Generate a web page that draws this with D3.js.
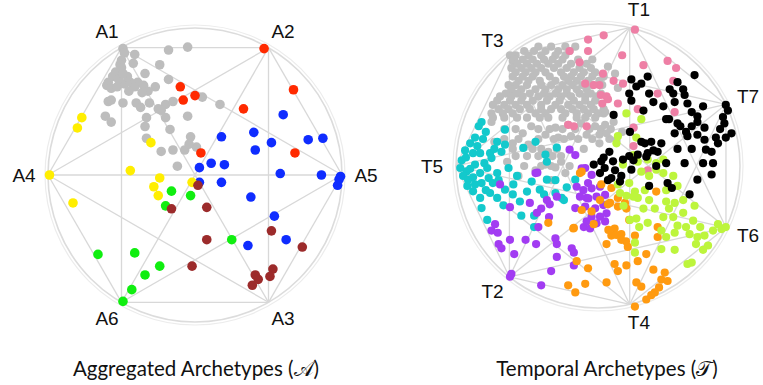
<!DOCTYPE html>
<html>
<head>
<meta charset="utf-8">
<script src="https://cdn.jsdelivr.net/npm/d3@7"></script>
<style>
  body { margin: 0; background: #fff; }
  svg { display: block; }
</style>
</head>
<body>
<svg id="chart" width="763" height="385"></svg>
<script>
// Archetype projections: points in a unit disc (radius = 100), y up

// --- Aggregated archetypes (left disc) ---
const aggLabels = ["A1", "A2", "A5", "A3", "A6", "A4"];
const aggAngles = [120, 60, 0, -60, -120, 180];

const aggGray = [
  [-49,86],[-48,83],[-41,82],[-18,85],[-5,87],[-50,78],[-51,75],[-54,70],[-56,67],[-59,63],
  [-60,61],[-57,59],[-53,60],[-48,62],[-44,63],[-46,67],[-39,63],[-41,60],[-35,61],[-34,69],
  [-24,75],[-18,65],[-27,60],[-32,57],[-36,56],[-45,57],[-59,50],[-57,51],[-49,49],[-40,49],
  [-37,46],[-31,49],[-25,45],[-20,48],[-15,50],[-23,44],[-33,39],[-34,33],[-33,25],[-20,39],
  [-17,31],[-5,40],[-3,26],[1,19],[-7,17],[-15,17],[-23,16],[-12,6],[17,48],[5,53],
  [-61,40],[-57,36],[-50,73],[-52,65],[-49,69],[-42,76],[-4,21]
];
const aggRed = [[47,86],[67,58],[-10,60],[0,54],[-8,51],[33,45],[68,15],[4,15]];
const aggBlue = [
  [60,41],[40,29],[52,22],[41,17],[18,26],[77,24],[87,25],[11,8],[20,7],[3,5],[3,-5],
  [18,-5],[58,1],[86,0],[99,-1],[97,-7],[98,-3],[38,-15],[54,-28],[62,-44],[36,-48]
];
const aggYellow = [[-77,39],[-80,32],[-30,22],[-99,0],[-44,3],[-24,-2],[-28,-8],[-25,-14],[-2,-5],[-83,-19]];
const aggGreen = [[-16,-11],[-3,-14],[-20,-21],[25,-44],[-66,-54],[-41,-53],[-24,-62],[-34,-68],[-43,-78],[-49,-86]];
const aggBrown = [[2,-7],[-16,-23],[8,-22],[8,-44],[52,-38],[73,-49],[-2,-62],[53,-64],[41,-68],[43,-71],[39,-75],[51,-69]];

// --- Temporal archetypes (right disc) ---
const tmpLabels = ["T1", "T7", "T6", "T4", "T2", "T5", "T3"];
const tmpAngles = [77.1, 25.7, -25.7, -77.1, -128.6, 180, 128.6];

const tmpGray = [
  [-42,84],[-33,84],[-23,84],[-16,84],[-52,81],[-45,81],[-37,81],[-28,81],[-20,81],
  [-62,78],[-58,78],[-49,78],[-40,78],[-30,78],[-23,78],
  [-60,74],[-59,75],[-53,75],[-46,75],[-38,75],[-32,75],[-25,75],[-14,75],[-4,75],
  [-57,72],[-50,72],[-43,72],[-35,72],[-28,72],[-19,72],[-8,72],
  [-61,69],[-54,69],[-47,69],[-40,69],[-31,69],[-22,69],[-13,69],[-5,69],
  [-58,66],[-51,66],[-44,66],[-37,66],[-26,66],[-17,66],[-10,66],[-2,66],
  [-60,63],[-53,63],[-46,63],[-34,63],[-24,63],[-19,63],[-12,63],[-4,63],[4,63],
  [-56,60],[-49,60],[-41,60],[-30,60],[-21,60],[-15,60],[-7,60],[1,60],
  [-63,57],[-58,57],[-50,57],[-40,57],[-33,57],[-25,57],[-18,57],[-11,57],[-4,57],[3,57],
  [-61,54],[-54,54],[-44,54],[-37,54],[-28,54],[-22,54],[-15,54],[-8,54],
  [-65,51],[-57,51],[-48,51],[-38,51],[-30,51],[-22,51],[-13,51],[-5,51],[2,51],
  [-69,49],[-61,49],[-53,49],[-42,49],[-34,49],[-26,49],[-19,49],[-9,49],[-1,49],
  [-71,46],[-62,46],[-54,46],[-46,46],[-36,46],[-27,46],[-17,46],[-9,46],[-2,46],
  [-74,43],[-66,43],[-58,43],[-50,43],[-40,43],[-30,43],[-21,43],[-13,43],[-5,43],
  [-70,40],[-63,40],[-55,40],[-48,40],[-40,40],[-33,40],[-26,40],[-18,40],[-10,40],[-3,40],[4,40],
  [-75,37],[-67,37],[-60,37],[-44,37],[-37,37],[-23,37],[-15,37],[-7,37],[0,37],
  [-74,34],[-66,34],[-57,34],[-50,34],[-41,34],[-35,34],[-25,34],[-15,34],[-9,34],[-2,34],
  [-75,31],[-47,28],[-30,27],[-21,29],[-12,30],[-2,28],
  [-66,26],[-58,26],[-42,26],[-34,26],[-25,26],[-16,26],[-6,26],[2,26],[9,26],
  [-53,23],[-37,22],[-28,20],[-19,21],[-8,22],
  [-66,19],[-56,19],[-42,19],[-31,19],[-24,19],[-14,19],[-4,19],[8,19],
  [-60,16],[-73,17],[-49,15],[-35,10],[-60,12],[-46,12],[-40,12],[-29,12],[-10,12],
  [-58,7],[-50,7],[-42,7],[-32,7],[-26,7],
  [-64,3],[-52,0],[-40,0],[-33,0],[-20,0],[-37,1],[-26,3],
  [-56,-7],[-30,-1],[-44,-3],[-23,-5],[-33,-10],
  [7,70],[12,65],[14,55],[4,37],[5,29],[1,22],[1,16],[5,38],[11,31],[17,24],[13,18],[25,27],[6,23]
];
const tmpCyan = [
  [-82,31],[-84,28],[-90,16],[-86.6,20],[-81,19],[-93.6,11],[-88,9],[-83,9],[-76,9],[-71,17],
  [-65.5,15],[-68,10],[-75,5.6],[-96,4],[-97,-1.4],[-92.5,-3.8],[-95,-7],[-91.5,-9.6],[-86.6,-13],
  [-82,-12],[-77,-8.5],[-71,-5],[-78,-1.4],[-86.6,1],[-83,-5],[-88,-17.8],[-83,-22.5],[-76,-19],
  [-71,-22.5],[-65.5,-16.7],[-59.6,-13],[-57,-7],[-63,-1.4],[-52.6,12.7],[-65.5,25.6],[-44,17],
  [-37,8],[-36,3],[-46.7,-11],[-41,-16.7],[-36,-9.6],[-30,-19],[-25.6,-22.5],[-16,-9.6],
  [-82,-29.6],[-66.6,-27.7],[-78,-38],[-54,-35],[-45,-35],[-45,-43],
  [-93,6],[-90,-2],[-88,-8],[-85,14],[-80,2],[-74,-12],[-79,-17],[-92,-14],[-73,12],[-79,24],
  [-70,-10],[-60,-20],[-55,-25],[-50,-18],[-30,-10],[-22,-15],[-29,13],[-24,-24],[-38,-20]
];
const tmpPink = [
  [26,96],[4,92],[-7,89],[-20,81],[-7,81],[-13,73],[17,78],[32,71],[49,74],[55,69],[3.5,65],
  [11,60],[17.6,58],[1,57],[53,60],[42,51],[2,50],[7,47],[14,44],[28,40],[54,38],[-9,58],
  [-3,57],[6,49],[3,44],[-21,29],[-17,28],[-8,28],[25,14],[35,-3],[25,27]
];
const tmpPurple = [
  [-34.5,-36],[-42,-43],[-72.5,-41],[-75,-45.5],[-70.6,-47],[-70,-55],[-68,-58],[-62,-52],
  [-51,-52],[-43.6,-55],[-59,-62],[-30,-51],[-29,-55],[-18.5,-58],[-17,-61],[-29,-64],[-33,-74],
  [-17,-70],[-62,-78],[-61,-76],[-40,-84],[-10,-43],[-5.6,-44],
  [-44,-5],[-69,-13],[-62,-29],[-48,-26],[-20,11.5],[-9,-1.4],[-7,-12],[-8,-22.5],[-16,-29.6],
  [-15,-14.6],[-10.3,-17],[-4.5,-15.7],[1.4,-14.6],[-12.7,-21.6],[-6.8,-22.8],[-1,-21.6],[5,-20.4],
  [-9,-28.6],[-2,-29.8],[3.8,-27.5],[-4.5,-35.7],[1.4,-35.7],[6,-33.3],[-8,-39],[-1,-40.4],[5,-39],
  [-42.7,-4.7],[-36,-24],[-34,-27],[-40,-30],[-43,-33],[-29,-21.6],[-16,7.7],[-11.5,-1.6],[-4.5,-6.3]
];
const tmpOrange = [
  [22,-38],[42,-43],[42,-50],[11.7,-44],[9.4,-49],[16.4,-48],[16.4,-52],[6,-55],[21,-57],[26,-49],
  [34,-62],[28,-67],[11.7,-69],[20,-70],[14,-74],[39,-73],[44.6,-80],[49,-81],[47,-75],[27,-82],
  [30.5,-85],[43,-85.5],[40,-89],[37.5,-91],[34,-94],[6,-82],[26,-99],
  [-17,-43.6],[-35,-40],[-15,-67],[-7,-72],[-21,-84],[-16,-89],[-9,-83],[-3,-41],
  [2.3,-13],[9.4,-15.5],[14,-22.5],[19,-26],[7,-27],[41,-18],
  [-12.7,-5],[1.4,-24],[20,-30],[-11.5,-31],[8.5,-26],[14,-28.6],[-17.4,-44],[7.3,-45],[13,-48.6],
  [19.7,-53],[-11.5,-4],[-4.5,-32]
];
const tmpLime = [
  [14,21],[27,20],[28,3],[35,4.5],[41,2],[46,4.5],[41,-2.6],[30.5,-4],[36,-7],[46,-5],[53,-7],
  [56,-14],[48,-17],[33,-17],[26,-18],[20,-21],[28,-22.5],[36,-24],[48,-25],[54,-26],[60,-24],
  [68,-28],[17.6,1],[22,-12],[14,-13],
  [27,-37],[35,-40],[46,-36],[53,-36],[56,-42],[62,-43],[67,-38.5],[72,-43],[64.5,-48],[70,-50],
  [75,-49],[81,-45.5],[87,-44.4],[84.5,-41],[90,-43],[77.5,-56],[74,-59],[69,-55],[54,-47],
  [44.6,-45.5],[48,-50],[54,-59],[44.6,-58.5],[26,-54],[26,-61],[63,-69],[66,-68],[29,-43],
  [15.5,-19],[25,-21.6],[22.5,-38],[13,16],[25,7.7],[40,-30],[32,-30],[60,-33],[50,-30],[18,-28],
  [20,37],[30.5,33]
];
const tmpBlack = [
  [35,63],[23.5,61],[30.5,58],[27,56],[36,51],[22,51],[23.5,46],[39,45],[50.5,54],[56,59],[60,54],
  [53,51],[61,50],[54,45],[68,64],[63,44],[32,39],[46,42],[74,42],[66,38],[90,43],[91.5,39],
  [88,34.5],[70,35],[48,33],
  [50,33],[56,30],[70,31],[75,27],[89,30],[94,23],[90,20],[84.5,16],[76,11.5],[75,18.5],[83,20],
  [81,2],[74,2],[80,-6],[70,-9.6],[54,23],[62,24],[63,21],[37.5,17],[30.5,17],[44.6,16],[42,10],
  [35,9],[28,8],[22,7],[17.6,4.5],[10.6,3.3],[4.7,-1.4],[2.3,3.3],[23.5,-2.6],[16.4,-7],[9.4,-8.5],
  [36,-14],[49,-12],[52,-15.5],[61,2],[64.5,-20],
  [11,36],[22.5,24],[-3,1],[1.4,-5],[7,-10],[15.5,-11],[12,-3],[25,4],[34,6.6],[39,11],[33,16],
  [41,0],[48,2],[58,28],[66,28],[80,10],[86,26],[70,22],[66,12],[56,12],[8,10],[4,6]
];

const aggGroups = [
  { pts: aggGray, color: "#bdbdbd" },
  { pts: aggRed, color: "#ff2a00" },
  { pts: aggBlue, color: "#0f2cff" },
  { pts: aggYellow, color: "#ffee00" },
  { pts: aggGreen, color: "#10ee10" },
  { pts: aggBrown, color: "#9c2b2b" }
];
const tmpGroups = [
  { pts: tmpGray, color: "#bdbdbd" },
  { pts: tmpCyan, color: "#13c9cc" },
  { pts: tmpPink, color: "#ee7fa5" },
  { pts: tmpPurple, color: "#a23cf2" },
  { pts: tmpOrange, color: "#ff9a10" },
  { pts: tmpLime, color: "#bdf53c" },
  { pts: tmpBlack, color: "#000000" }
];

const svg = d3.select("#chart");

const drawDisc = ({ cx, cy, r, labels, angles, groups, dotR, caption, captionX }) => {
  const x = d3.scaleLinear().domain([-100, 100]).range([cx - r, cx + r]);
  const y = d3.scaleLinear().domain([-100, 100]).range([cy + r, cy - r]);
  const g = svg.append("g");

  // outer ring (faint double line)
  g.append("circle")
    .attr("cx", x(0)).attr("cy", y(0)).attr("r", r + 3)
    .attr("fill", "none").attr("stroke", "#ececec").attr("stroke-width", 1.2);
  g.append("circle")
    .attr("cx", x(0)).attr("cy", y(0)).attr("r", r)
    .attr("fill", "none").attr("stroke", "#dcdcdc").attr("stroke-width", 1.6);

  const verts = angles.map((a, i) => ({
    label: labels[i],
    a: (a * Math.PI) / 180,
    u: 100 * Math.cos((a * Math.PI) / 180),
    v: 100 * Math.sin((a * Math.PI) / 180)
  }));

  // every pair of archetypes joined
  const pairs = d3.cross(d3.range(verts.length), d3.range(verts.length)).filter(([i, j]) => i < j);
  g.append("g")
    .selectAll("line")
    .data(pairs)
    .join("line")
    .attr("x1", ([i]) => x(verts[i].u))
    .attr("y1", ([i]) => y(verts[i].v))
    .attr("x2", ([, j]) => x(verts[j].u))
    .attr("y2", ([, j]) => y(verts[j].v))
    .attr("stroke", "#d8d8d8")
    .attr("stroke-width", 1.3);

  groups.forEach(grp => {
    g.append("g")
      .selectAll("circle")
      .data(grp.pts)
      .join("circle")
      .attr("cx", d => x(d[0]))
      .attr("cy", d => y(d[1]))
      .attr("r", dotR)
      .attr("fill", grp.color);
  });

  const lr = r + 19;
  g.append("g")
    .selectAll("text")
    .data(verts)
    .join("text")
    .attr("x", d => cx + lr * Math.cos(d.a) + Math.sign(Math.round(Math.cos(d.a) * 10)) * 5)
    .attr("y", d => cy - lr * Math.sin(d.a))
    .attr("text-anchor", "middle")
    .attr("dominant-baseline", "central")
    .attr("font-family", "Liberation Sans, Arial, sans-serif")
    .attr("font-size", 19)
    .attr("fill", "#111")
    .text(d => d.label);

  svg.append("text")
    .attr("x", captionX)
    .attr("y", 376)
    .attr("text-anchor", "middle")
    .attr("font-family", "Lato, Open Sans, sans-serif")
    .attr("font-size", 20.5)
    .attr("fill", "#111")
    .text(caption);
};

drawDisc({
  cx: 195, cy: 175, r: 147, labels: aggLabels, angles: aggAngles, groups: aggGroups,
  dotR: 4.8, caption: "Aggregated Archetypes (\u{1D49C})", captionX: 196
});
drawDisc({
  cx: 598, cy: 166, r: 142, labels: tmpLabels, angles: tmpAngles, groups: tmpGroups,
  dotR: 4.1, caption: "Temporal Archetypes (\u{1D4AF})", captionX: 607
});
</script>
</body>
</html>
